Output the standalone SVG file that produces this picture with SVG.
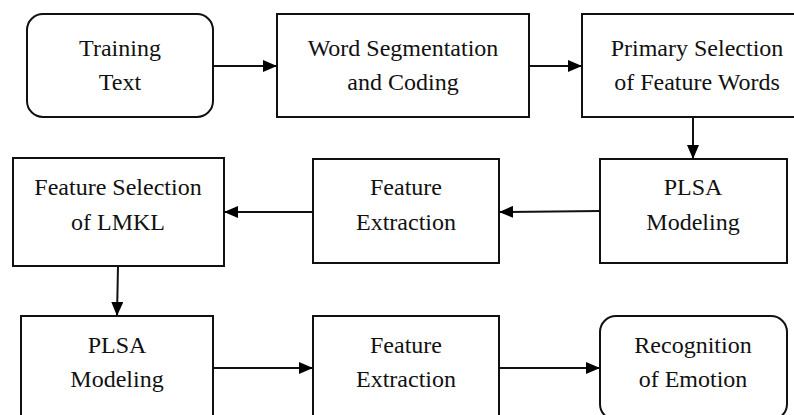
<svg xmlns="http://www.w3.org/2000/svg" width="794" height="415" viewBox="0 0 794 415">
<defs>
<marker id="ah" viewBox="0 0 14 12" refX="14" refY="6" markerWidth="14" markerHeight="12" markerUnits="userSpaceOnUse" orient="auto">
<path d="M0,0 L14,6 L0,12 Z" fill="#000"/>
</marker>
<style>
.box{fill:#fff;stroke:#111;stroke-width:2}
text{font-family:'Times New Roman','Liberation Serif','DejaVu Serif',serif;font-size:24px;fill:#111;text-anchor:middle}
.c{stroke:#111;stroke-width:2;fill:none;marker-end:url(#ah)}
</style>
</defs>
<rect width="794" height="415" fill="#fff"/>
<g id="n1"><rect class="box" x="27" y="14" width="186" height="103" rx="16"/><text x="120" y="56">Training</text><text x="120" y="90">Text</text></g>
<g id="n2"><rect class="box" x="277" y="14" width="252" height="103"/><text x="403" y="56">Word Segmentation</text><text x="403" y="90">and Coding</text></g>
<g id="n3"><rect class="box" x="582" y="14" width="220" height="103"/><text x="697" y="56">Primary Selection</text><text x="697" y="90">of Feature Words</text></g>
<g id="n4"><rect class="box" x="600" y="159" width="187" height="104"/><text x="693" y="195">PLSA</text><text x="693" y="230">Modeling</text></g>
<g id="n5"><rect class="box" x="313" y="159" width="186" height="104"/><text x="406" y="195">Feature</text><text x="406" y="230">Extraction</text></g>
<g id="n6"><rect class="box" x="13" y="158" width="211" height="108"/><text x="118" y="195">Feature Selection</text><text x="118" y="230">of LMKL</text></g>
<g id="n7"><rect class="box" x="21" y="316" width="192" height="104"/><text x="117" y="353">PLSA</text><text x="117" y="387">Modeling</text></g>
<g id="n8"><rect class="box" x="313" y="316" width="186" height="104"/><text x="406" y="353">Feature</text><text x="406" y="387">Extraction</text></g>
<g id="n9"><rect class="box" x="600" y="316" width="187" height="104" rx="16"/><text x="693" y="353">Recognition</text><text x="693" y="387">of Emotion</text></g>
<g id="connectors">
<line class="c" x1="213" y1="66" x2="277" y2="66"/>
<line class="c" x1="529" y1="66" x2="582" y2="66"/>
<line class="c" x1="693" y1="117" x2="693" y2="159"/>
<line class="c" x1="600" y1="211" x2="499" y2="212"/>
<line class="c" x1="313" y1="212" x2="224" y2="212"/>
<line class="c" x1="118" y1="266" x2="117" y2="316"/>
<line class="c" x1="213" y1="368" x2="313" y2="368"/>
<line class="c" x1="499" y1="368" x2="600" y2="368"/>
</g>
</svg>
